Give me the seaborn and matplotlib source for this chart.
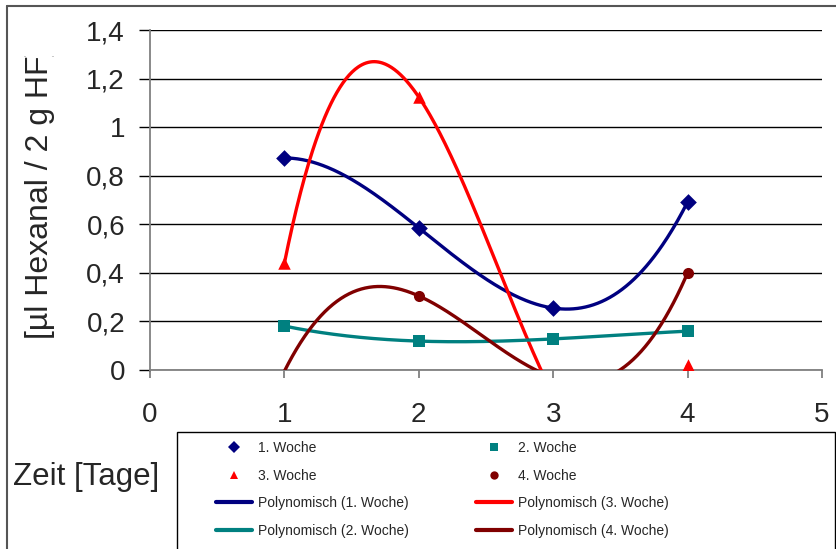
import numpy as np
import pandas as pd
import seaborn as sns
import matplotlib
matplotlib.use("Agg")
import matplotlib.pyplot as plt
from matplotlib.lines import Line2D
from matplotlib.patches import Rectangle
from matplotlib.transforms import Bbox

# Measurement days
days = [1, 2, 3, 4]

# Hexanal per 2 g fresh weight, one series per storage week
woche1 = [0.873, 0.585, 0.255, 0.692]
woche2 = [0.181, 0.119, 0.128, 0.160]
woche3 = [0.440, 1.124, -0.104, 0.020]
woche4 = [-0.005, 0.305, -0.030, 0.400]

series_names = ["1. Woche", "2. Woche", "3. Woche", "4. Woche"]
series_values = [woche1, woche2, woche3, woche4]
series_colors = ["#000080", "#008080", "#FF0000", "#800000"]
series_markers = ["D", "s", "^", "o"]

y_ticks = [0, 0.2, 0.4, 0.6, 0.8, 1.0, 1.2, 1.4]
y_tick_labels = ["0", "0,2", "0,4", "0,6", "0,8", "1", "1,2", "1,4"]
x_ticks = [0, 1, 2, 3, 4, 5]
x_tick_labels = ["0", "1", "2", "3", "4", "5"]

sns.set_style("white")
plt.rcParams["font.family"] = ["Liberation Sans", "DejaVu Sans"]

W, H = 836, 549
fig = plt.figure(figsize=(W / 100, H / 100), dpi=100)
ax = fig.add_axes([150 / W, 1 - 370 / H, 672 / W, 340 / H])

# third-order polynomial trend lines (fitted over days 1..4)
xs = np.linspace(1, 4, 400)
trend_rows = []
for name, vals in zip(series_names, series_values):
    coef = np.polyfit(days, vals, 3)
    for x, y in zip(xs, np.polyval(coef, xs)):
        trend_rows.append({"Tag": x, "Wert": y, "Serie": name})
trend = pd.DataFrame(trend_rows)

order = [0, 2, 1, 3]  # draw order: 1., 3., 2., 4. week
for i in order:
    name = series_names[i]
    sns.lineplot(data=trend[trend["Serie"] == name], x="Tag", y="Wert",
                 color=series_colors[i], linewidth=2.4, ax=ax, legend=False,
                 zorder=3)

# measured points (values below the axis minimum are not shown)
pt_sizes = {"D": 8.5, "s": 8, "^": 9, "o": 8}
for i in range(4):
    df = pd.DataFrame({"Tag": days, "Wert": series_values[i]})
    df = df[df["Wert"] >= 0]
    m = series_markers[i]
    sns.scatterplot(data=df, x="Tag", y="Wert", marker=m,
                    s=pt_sizes[m] ** 2, color=series_colors[i],
                    edgecolor=series_colors[i], linewidth=0, ax=ax,
                    legend=False, zorder=4, clip_on=True)

ax.set_xlim(0, 5)
ax.set_ylim(0, 1.4)
ax.set_xticks(x_ticks)
ax.set_xticklabels(x_tick_labels, fontsize=20)
ax.set_yticks(y_ticks)
ax.set_yticklabels(y_tick_labels, fontsize=20)
ax.set_xlabel("")
ax.set_ylabel("")

ax.yaxis.grid(True, color="black", linewidth=1.0)
ax.xaxis.grid(False)
ax.set_axisbelow(True)
for side in ["top", "right"]:
    ax.spines[side].set_visible(False)
for side in ["left", "bottom"]:
    ax.spines[side].set_color("#808080")
    ax.spines[side].set_linewidth(1.3)
ax.tick_params(axis="y", direction="out", length=8, width=1.0,
               color="black", pad=10, left=True)
ax.tick_params(axis="x", direction="out", length=6, width=1.3,
               color="#808080", pad=17, bottom=True)

# axis titles (the vertical one is cut by the chart area's upper edge)
ylab = fig.text(40 / W, 1 - 192.5 / H, "[µl Hexanal / 2 g HF]",
                rotation=90, ha="center", va="center", fontsize=23)
ylab.set_clip_box(Bbox([[0, 0], [W, H - 56]]))
ylab.set_clip_on(True)
fig.text(13 / W, 1 - 485 / H, "Zeit [Tage]", ha="left", va="baseline",
         fontsize=22.5)

# legend
handles = []
for i in range(4):
    handles.append(Line2D([], [], linestyle="none",
                          marker=series_markers[i], markersize=6,
                          color=series_colors[i], markeredgewidth=0))
line_handles = [Line2D([], [], color=c, linewidth=3) for c in series_colors]
labels_pts = series_names
labels_lines = ["Polynomisch (%s)" % n for n in series_names]
# two columns, filled column by column
leg_handles = [handles[0], handles[2], line_handles[0], line_handles[1],
               handles[1], handles[3], line_handles[2], line_handles[3]]
leg_labels = [labels_pts[0], labels_pts[2], labels_lines[0], labels_lines[1],
              labels_pts[1], labels_pts[3], labels_lines[2], labels_lines[3]]
leg = fig.legend(leg_handles, leg_labels, ncol=2, loc="upper left",
                 bbox_to_anchor=(216 / W, 1 - 441 / H), frameon=False,
                 borderpad=0, borderaxespad=0, handlelength=2.6,
                 handletextpad=0.43, columnspacing=4.85, labelspacing=0.98,
                 prop={"size": 10})

fig.patches.append(Rectangle((177 / W, -0.05), (835 - 177) / W,
                             (549 - 432) / H + 0.05, transform=fig.transFigure,
                             fill=False, edgecolor="black", linewidth=1.0))

# outer chart border
fig.lines.append(Line2D([7 / W, 1.0], [1 - 6 / H, 1 - 6 / H],
                        transform=fig.transFigure, color="#555555",
                        linewidth=1.5))
fig.lines.append(Line2D([7 / W, 7 / W], [0, 1 - 6 / H],
                        transform=fig.transFigure, color="#555555",
                        linewidth=1.5))

fig.savefig("out.png", dpi=100)
